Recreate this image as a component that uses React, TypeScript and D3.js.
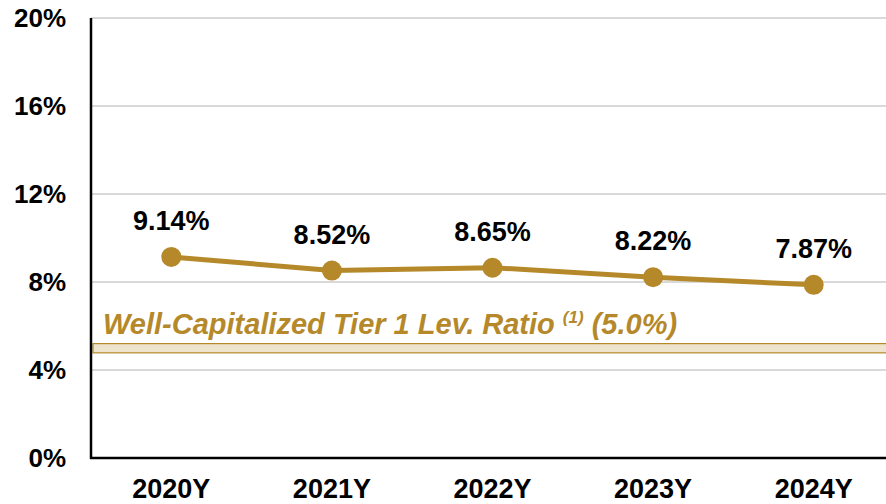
import React from "react";
import * as d3 from "d3";

const categories = ["2020Y", "2021Y", "2022Y", "2023Y", "2024Y"];
const values = [9.14, 8.52, 8.65, 8.22, 7.87];
const valueLabels = ["9.14%", "8.52%", "8.65%", "8.22%", "7.87%"];
const yTicks = [0, 4, 8, 12, 16, 20];
const threshold = 5.0;
const thresholdLabel = "Well-Capitalized Tier 1 Lev. Ratio ";
const thresholdSup = "(1)";
const thresholdValue = " (5.0%)";

const W = 886;
const H = 504;
const GOLD = "#B5892A";
const FONT = "Arial, 'Liberation Sans', sans-serif";

export default function App() {
  const x = d3.scaleBand<string>().domain(categories).range([91, 894]).paddingInner(0).paddingOuter(0);
  const y = d3.scaleLinear().domain([0, 20]).range([458, 18]);
  const cx = (c: string) => (x(c) ?? 0) + x.bandwidth() / 2;
  const line = d3
    .line<number>()
    .x((_, i) => cx(categories[i]))
    .y((d) => y(d));

  return (
    <svg
      width={W}
      height={H}
      style={{ position: "absolute", left: 0, top: 0, display: "block", background: "#fff" }}
      fontFamily={FONT}
    >
      {yTicks.map((t) => (
        <g key={t}>
          {t > 0 && (
            <line x1={91} x2={W} y1={y(t)} y2={y(t)} stroke="#D9D9D9" strokeWidth={2} />
          )}
          <text
            x={66}
            y={y(t)}
            dy="0.36em"
            textAnchor="end"
            fontSize={26}
            fontWeight="bold"
            fill="#000"
          >
            {t}%
          </text>
        </g>
      ))}
      <rect
        x={93}
        y={y(threshold + 0.2)}
        width={W - 93 + 2}
        height={y(threshold - 0.22) - y(threshold + 0.2)}
        fill="#EEE3CC"
        stroke={GOLD}
        strokeWidth={1.2}
      />
      <text x={103} y={334} fontSize={29} fontWeight="bold" fontStyle="italic" fill={GOLD}>
        {thresholdLabel}
        <tspan fontSize={17} dy={-11}>{thresholdSup}</tspan>
        <tspan dy={11}>{thresholdValue}</tspan>
      </text>
      <line x1={91} x2={91} y1={18} y2={459} stroke="#000" strokeWidth={2.5} />
      <line x1={90} x2={W} y1={458} y2={458} stroke="#000" strokeWidth={2.5} />
      <path d={line(values) ?? ""} fill="none" stroke={GOLD} strokeWidth={5} />
      {values.map((v, i) => (
        <g key={categories[i]}>
          <circle cx={cx(categories[i])} cy={y(v)} r={10} fill={GOLD} />
          <text
            x={cx(categories[i])}
            y={y(v) - 27}
            textAnchor="middle"
            fontSize={27}
            fontWeight="bold"
            fill="#000"
          >
            {valueLabels[i]}
          </text>
        </g>
      ))}
      {categories.map((c) => (
        <text key={c} x={cx(c)} y={498} textAnchor="middle" fontSize={27} fontWeight="bold" fill="#000">
          {c}
        </text>
      ))}
    </svg>
  );
}
